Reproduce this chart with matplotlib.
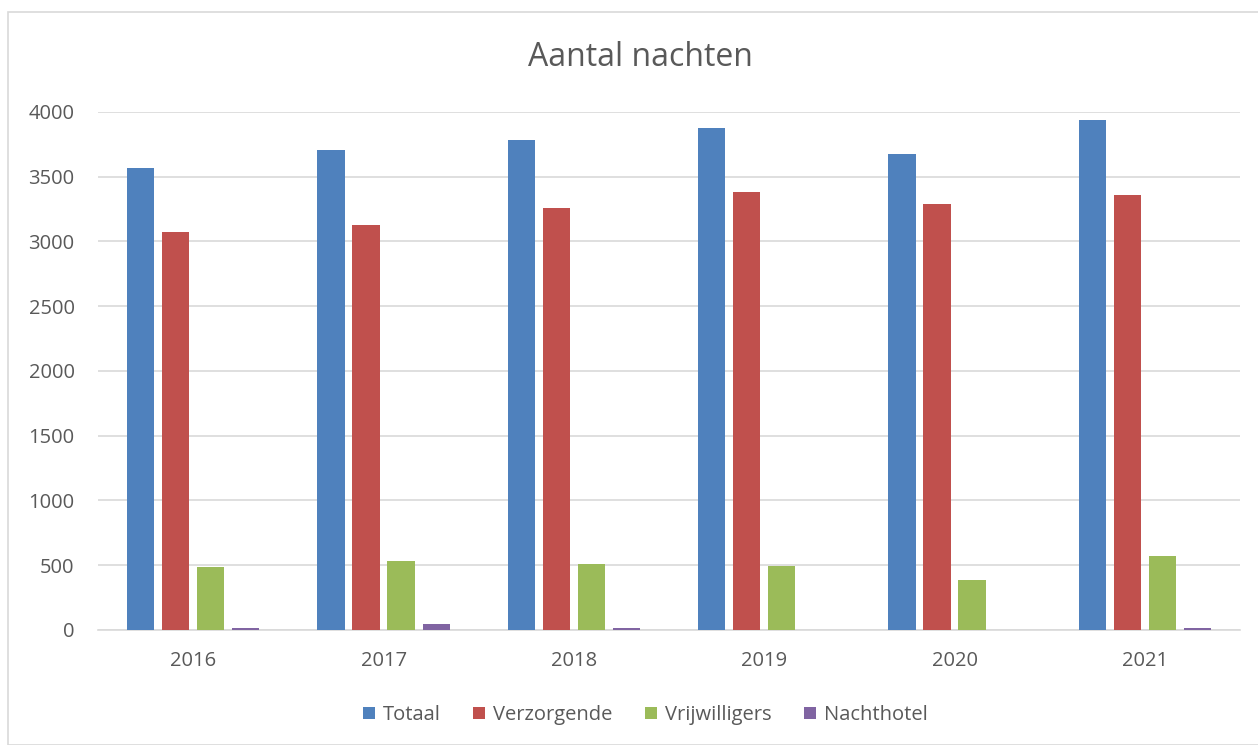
import matplotlib
matplotlib.use('Agg')
import matplotlib.pyplot as plt
from matplotlib.patches import Rectangle

import numpy

# Data
YEARS = ['2016', '2017', '2018', '2019', '2020', '2021']
TOTAAL = [3565, 3704, 3781, 3879, 3673, 3941]
VERZORGENDE = [3076, 3124, 3261, 3385, 3287, 3356]
VRIJWILLIGERS = [484, 531, 508, 495, 383, 572]
NACHTHOTEL = [19, 44, 12, 0, 0, 18]

SERIES_NAMES = ['Totaal', 'Verzorgende', 'Vrijwilligers', 'Nachthotel']
COLORS = ['#4F81BD', '#C0504D', '#9BBB59', '#8064A2']

TEXT_COLOR = '#595959'
GRID_COLOR = '#D9D9D9'

plt.rcParams['font.family'] = ['Open Sans', 'DejaVu Sans']

fig = plt.figure(figsize=(12.58, 7.45), dpi=100)
ax = fig.add_axes([0.078, 0.1544, 0.9077, 0.6953])

# Light frame around the whole chart, like the office chart area
fig.patches.append(Rectangle((8 / 1258, 0), 2, (745 - 12) / 745,
                             transform=fig.transFigure, fill=False,
                             edgecolor=GRID_COLOR, linewidth=1.2))

x = numpy.arange(len(YEARS))
barWidth = 0.143
step = 0.184
allSeries = [TOTAAL, VERZORGENDE, VRIJWILLIGERS, NACHTHOTEL]

for i, values in enumerate(allSeries):
    offset = (i - 1.5) * step
    ax.bar(x + offset, values, width=barWidth, color=COLORS[i],
           label=SERIES_NAMES[i], zorder=3)

ax.set_xlim(-0.5, len(YEARS) - 0.5)
ax.set_ylim(0, 4000)
ax.set_yticks(numpy.arange(0, 4001, 500))
ax.set_xticks(x)
ax.set_xticklabels(YEARS)

ax.yaxis.grid(True, color=GRID_COLOR, linewidth=1.2, zorder=0)
ax.set_axisbelow(True)
for side in ['top', 'right', 'left']:
    ax.spines[side].set_visible(False)
ax.spines['bottom'].set_color(GRID_COLOR)
ax.spines['bottom'].set_linewidth(1.2)

ax.tick_params(axis='both', length=0, labelsize=14.5, colors=TEXT_COLOR)
ax.tick_params(axis='y', pad=17)
ax.tick_params(axis='x', pad=15)

fig.text(640 / 1258, 1 - 58 / 745, 'Aantal nachten', ha='center', va='center',
         fontsize=23, color=TEXT_COLOR)

fig.legend(loc='center', bbox_to_anchor=(0.513, 1 - 715 / 745), ncol=4,
           frameon=False, fontsize=14.5, labelcolor=TEXT_COLOR,
           handlelength=0.6, handleheight=0.6, handletextpad=0.4,
           columnspacing=1.6)

plt.savefig('out.png', dpi=100)
